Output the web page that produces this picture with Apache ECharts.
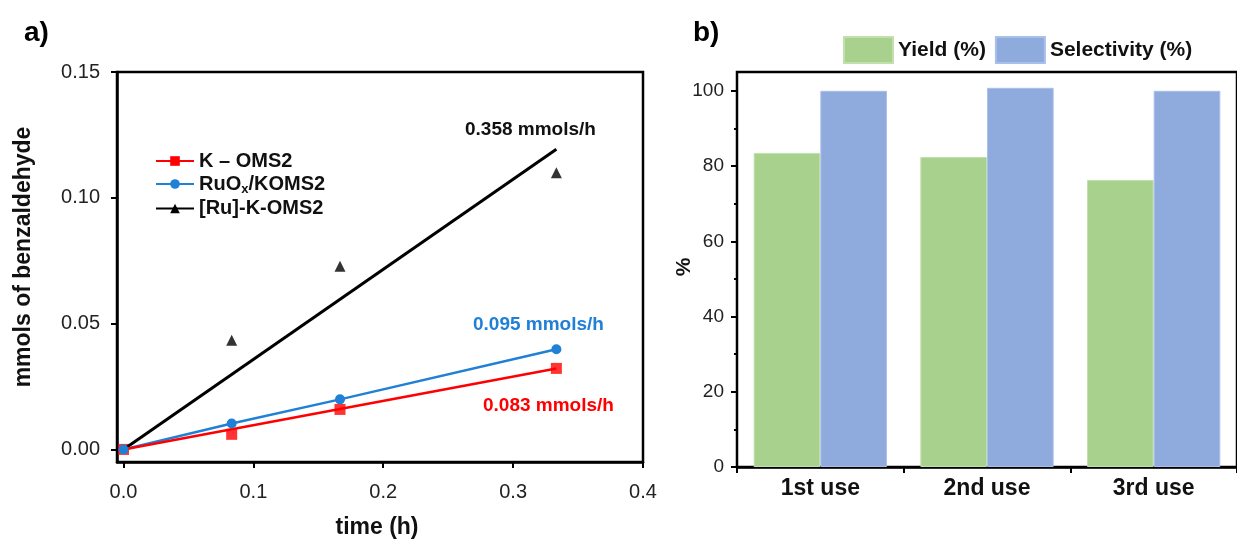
<!DOCTYPE html>
<html>
<head>
<meta charset="utf-8">
<script src="https://cdn.jsdelivr.net/npm/echarts@6/dist/echarts.min.js"></script>
<style>
  html, body { margin: 0; padding: 0; background: #fff; }
  #chart { width: 1237px; height: 541px; }
</style>
</head>
<body>
<div id="chart"></div>
<script>
// a) benzaldehyde vs time
const timeH = [0, 0.0833, 0.1667, 0.3333];
const kOms2 = [0, 0.006, 0.0159, 0.0322];
const ruOxKoms2 = [0, 0.0103, 0.0199, 0.0398];
const ruKOms2 = [0, 0.0434, 0.0728, 0.110];
// straight fit lines (start, end)
const fitTime = [0, 0.3333];
const kOms2Fit = [0, 0.0322];
const ruKOms2Fit = [0, 0.1193];
const yTicksA = [0, 0.05, 0.10, 0.15];
const xTicksA = [0, 0.1, 0.2, 0.3, 0.4];

// b) reuse
const uses = ['1st use', '2nd use', '3rd use'];
const yieldPct = [83.5, 82.4, 76.3];
const selectivityPct = [100, 100.8, 100];
const yTicksB = [0, 20, 40, 60, 80, 100];
const yMinorB = [10, 30, 50, 70, 90];

const FONT = 'Liberation Sans, Arial, sans-serif';
const RED = '#ff0000';
const BLUE = '#1f80d6';

function pairs (xs, ys) {
  return xs.map((x, i) => [x, ys[i]]);
}
// fit line: points without markers, legend keeps the series marker
function fitPairs (xs, ys) {
  return xs.map((x, i) => ({ value: [x, ys[i]], symbol: 'none' }));
}

let myChart = echarts.init(document.getElementById('chart'));

let axisLineStyle = { color: '#000', width: 2.5 };
let tickStyle = { color: '#000', width: 2 };

let option = {
  backgroundColor: '#fff',
  animation: false,
  textStyle: { fontFamily: FONT },
  grid: [
    { left: 117, top: 72, width: 526, height: 390, show: true, borderColor: '#000', borderWidth: 2.5 },
    { left: 737, top: 72, width: 509, height: 395, show: true, borderColor: '#000', borderWidth: 2.5 }
  ],
  legend: [
    {
      orient: 'vertical',
      left: 150,
      top: 146,
      itemGap: 3,
      itemWidth: 38,
      itemHeight: 12,
      data: ['K – OMS2', 'RuOx/KOMS2', '[Ru]-K-OMS2'],
      formatter: name => name === 'RuOx/KOMS2' ? '{b|RuO}{s|x}{b|/KOMS2}' : name,
      textStyle: {
        fontFamily: FONT, fontSize: 20, fontWeight: 'bold', color: '#111',
        rich: {
          b: { fontFamily: FONT, fontSize: 20, fontWeight: 'bold', color: '#111' },
          s: { fontFamily: FONT, fontSize: 13, fontWeight: 'bold', color: '#111', padding: [10, 0, 0, 0] }
        }
      }
    },
    {
      left: 838,
      top: 31,
      itemGap: 9,
      itemWidth: 49,
      itemHeight: 26,
      icon: 'rect',
      data: ['Yield (%)', 'Selectivity (%)'],
      textStyle: { fontFamily: FONT, fontSize: 21, fontWeight: 'bold', color: '#111' }
    }
  ],
  xAxis: [
    {
      type: 'value',
      gridIndex: 0,
      min: -0.005,
      max: 0.4,
      axisLine: { onZero: false, lineStyle: axisLineStyle },
      axisTick: { show: true, length: 6, lineStyle: tickStyle, customValues: xTicksA },
      axisLabel: {
        customValues: xTicksA,
        formatter: v => v.toFixed(1),
        fontFamily: FONT, fontSize: 20, color: '#222', margin: 20
      },
      splitLine: { show: false }
    },
    {
      type: 'category',
      gridIndex: 1,
      data: uses,
      axisLine: { lineStyle: axisLineStyle },
      axisTick: { show: true, length: 6, lineStyle: tickStyle },
      axisLabel: { fontFamily: FONT, fontSize: 23, fontWeight: 'bold', color: '#111', margin: 10 }
    }
  ],
  yAxis: [
    {
      type: 'value',
      gridIndex: 0,
      min: -0.005,
      max: 0.15,
      axisLine: { onZero: false, lineStyle: axisLineStyle },
      axisTick: { show: true, length: 6, lineStyle: tickStyle, customValues: yTicksA },
      axisLabel: {
        customValues: yTicksA,
        formatter: v => v.toFixed(2),
        fontFamily: FONT, fontSize: 20, color: '#222', margin: 17
      },
      splitLine: { show: false }
    },
    {
      type: 'value',
      gridIndex: 1,
      position: 'left',
      min: 0,
      max: 105,
      axisLine: { onZero: false, lineStyle: axisLineStyle },
      axisTick: { show: true, length: 6, lineStyle: tickStyle, customValues: yTicksB },
      axisLabel: { customValues: yTicksB, fontFamily: FONT, fontSize: 19, color: '#222', margin: 13 },
      splitLine: { show: false }
    },
    // minor ticks only
    {
      type: 'value',
      gridIndex: 1,
      position: 'left',
      min: 0,
      max: 105,
      axisLine: { show: false, onZero: false },
      axisTick: { show: true, length: 3, lineStyle: tickStyle, customValues: yMinorB },
      axisLabel: { show: false },
      splitLine: { show: false }
    }
  ],
  graphic: [
    { type: 'text', left: 24, top: 19, style: { text: 'a)', font: 'bold 28px ' + FONT, fill: '#000' } },
    { type: 'text', left: 693, top: 19, style: { text: 'b)', font: 'bold 28px ' + FONT, fill: '#000' } },
    // axis titles
    {
      type: 'text', x: 24, y: 257, rotation: Math.PI / 2,
      style: { text: 'mmols of benzaldehyde', font: 'bold 23px ' + FONT, fill: '#111', align: 'center', verticalAlign: 'middle' }
    },
    {
      type: 'text', x: 377, y: 528,
      style: { text: 'time (h)', font: 'bold 23px ' + FONT, fill: '#111', align: 'center', verticalAlign: 'middle' }
    },
    {
      type: 'text', x: 684, y: 267, rotation: Math.PI / 2,
      style: { text: '%', font: 'bold 21px ' + FONT, fill: '#111', align: 'center', verticalAlign: 'middle' }
    },
    // rate annotations
    { type: 'text', left: 465, top: 120, style: { text: '0.358 mmols/h', font: 'bold 19px ' + FONT, fill: '#111' } },
    { type: 'text', left: 473, top: 315, style: { text: '0.095 mmols/h', font: 'bold 19px ' + FONT, fill: BLUE } },
    { type: 'text', left: 483, top: 396, style: { text: '0.083 mmols/h', font: 'bold 19px ' + FONT, fill: RED } }
  ],
  series: [
    {
      name: '[Ru]-K-OMS2',
      type: 'line',
      xAxisIndex: 0,
      yAxisIndex: 0,
      symbol: 'triangle',
      symbolSize: 10,
      itemStyle: { color: '#000' },
      lineStyle: { color: '#000', width: 3 },
      data: fitPairs(fitTime, ruKOms2Fit)
    },
    {
      name: '[Ru]-K-OMS2',
      type: 'scatter',
      xAxisIndex: 0,
      yAxisIndex: 0,
      symbol: 'triangle',
      symbolSize: 11,
      itemStyle: { color: '#000' },
      data: pairs(timeH, ruKOms2).slice(1)
    },
    {
      name: 'RuOx/KOMS2',
      type: 'line',
      xAxisIndex: 0,
      yAxisIndex: 0,
      symbol: 'circle',
      symbolSize: 10,
      itemStyle: { color: BLUE },
      lineStyle: { color: BLUE, width: 2.5 },
      data: pairs(timeH, ruOxKoms2)
    },
    {
      name: 'K – OMS2',
      type: 'line',
      xAxisIndex: 0,
      yAxisIndex: 0,
      symbol: 'rect',
      symbolSize: 11,
      itemStyle: { color: RED },
      lineStyle: { color: RED, width: 2.5 },
      data: fitPairs(fitTime, kOms2Fit)
    },
    {
      name: 'K – OMS2',
      type: 'scatter',
      xAxisIndex: 0,
      yAxisIndex: 0,
      symbol: 'rect',
      symbolSize: 11,
      itemStyle: { color: RED },
      data: pairs(timeH, kOms2)
    },
    {
      name: 'Yield (%)',
      type: 'bar',
      xAxisIndex: 1,
      yAxisIndex: 1,
      barGap: '0%',
      barCategoryGap: '20%',
      itemStyle: { color: '#a9d18e', borderColor: '#c2e0ad', borderWidth: 1 },
      data: yieldPct
    },
    {
      name: 'Selectivity (%)',
      type: 'bar',
      xAxisIndex: 1,
      yAxisIndex: 1,
      barGap: '0%',
      barCategoryGap: '20%',
      itemStyle: { color: '#8faadc', borderColor: '#a9c0ea', borderWidth: 1 },
      data: selectivityPct
    }
  ]
};

myChart.setOption(option);
</script>
</body>
</html>
